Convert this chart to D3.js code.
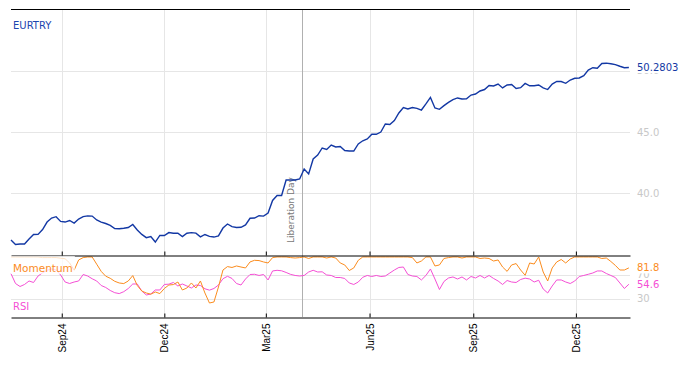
<!DOCTYPE html>
<html>
<head>
<meta charset="utf-8">
<title>EURTRY</title>
<style>
  body { margin: 0; background: #fff; }
  svg { font-family: "DejaVu Sans", sans-serif; }
  .grid line { stroke: #e6e6e6; stroke-width: 1; }
  .axis path, .axis line { stroke: #000; }
  .axis text { fill: #000; font-size: 10px; }
</style>
<script src="https://d3js.org/d3.v7.min.js"></script>
</head>
<body>
<svg id="chart" width="687" height="366"></svg>
<script>
// one reading every 4 calendar days, starting 18 Jul 2024
var startDate = new Date(2024, 6, 18);
var stepDays = 4;

var eurtry = [
  36.15, 35.78, 35.82, 35.82, 36.23, 36.60, 36.61, 37.01, 37.62, 37.95,
  38.06, 37.67, 37.62, 37.75, 37.54, 37.87, 38.06, 38.13, 38.11, 37.79,
  37.62, 37.50, 37.34, 37.09, 37.07, 37.11, 37.17, 37.42, 36.97, 36.61,
  36.34, 36.43, 35.98, 36.52, 36.52, 36.76, 36.70, 36.70, 36.43, 36.70,
  36.75, 36.71, 36.41, 36.60, 36.45, 36.39, 36.48, 37.13, 37.46, 37.24,
  37.17, 37.19, 37.39, 37.93, 37.95, 38.14, 38.11, 38.36, 39.39, 39.80,
  39.80, 41.07, 41.07, 41.07, 41.15, 41.97, 41.57, 42.79, 43.11, 43.69,
  43.57, 43.93, 43.77, 43.81, 43.48, 43.44, 43.44, 44.02, 44.28, 44.43,
  44.81, 44.81, 45.00, 45.66, 45.61, 45.94, 46.56, 47.01, 46.89, 47.01,
  46.94, 46.80, 47.30, 47.83, 46.97, 46.86, 47.16, 47.43, 47.66, 47.79,
  47.70, 47.72, 48.03, 48.11, 48.36, 48.48, 48.81, 48.77, 48.93, 48.61,
  48.85, 48.89, 48.57, 48.63, 48.98, 48.79, 48.79, 48.85, 48.61, 48.48,
  48.93, 49.14, 49.14, 48.99, 49.26, 49.40, 49.43, 49.61, 50.08, 50.27,
  50.22, 50.61, 50.64, 50.59, 50.52, 50.39, 50.27, 50.2803
];

var momentum = [
  100, 100, 100, 100, 100, 100, 100, 99, 99, 99,
  99, 98, 97, 90, 78, 95, 99, 100, 100, 88,
  76, 68, 64.5, 59.5, 56.7, 55.7, 60, 69, 52.5, 43.3,
  40, 38, 41.7, 39, 47.5, 53.3, 54, 58.3, 45, 48.3,
  56.7, 48.3, 60, 40, 23.3, 25, 50, 78.3, 84, 82.5,
  85, 83.3, 81.7, 91.7, 94.5, 94, 91.7, 90, 99, 100,
  100, 100, 99, 98.3, 99, 100, 97.5, 100, 100, 100,
  98.3, 100, 98.3, 90, 86.7, 77.5, 81.7, 94.5, 100, 100,
  100, 100, 100, 100, 100, 100, 100, 100, 100, 99,
  90, 93.3, 100, 100, 85, 86.7, 97.5, 99, 100, 100,
  98.3, 100, 100, 100, 97.5, 98.3, 97.5, 93.3, 95, 83.3,
  76, 86.7, 89, 78.3, 69.5, 90, 88.3, 100, 75, 60,
  81.7, 91.7, 95.8, 90, 96.7, 100, 100, 100, 100, 100,
  100, 97.5, 98.3, 92.5, 86, 78.3, 78.3, 81.8
];

var rsi = [
  72.2, 55.8, 50.8, 54.2, 60, 57.5, 68.3, 73.7, 77.8, 80,
  78.3, 70, 58.3, 55.8, 58.3, 60, 70.8, 68.3, 63.7, 60,
  52.5, 49.2, 44.2, 40.5, 39, 42.2, 47.5, 55, 55, 43.3,
  36.7, 38.3, 45, 45, 54.2, 54.7, 57.5, 51.7, 55, 51.7,
  48.3, 53.3, 52.5, 47, 44.7, 47.5, 53.3, 63.8, 67.8, 64.2,
  55.8, 53.3, 63.3, 70.8, 71.2, 69.2, 70.8, 61.7, 76.7, 77.8,
  77, 74.2, 71, 69.2, 68.3, 69.2, 75, 77.8, 75, 75.3,
  70, 69.2, 65.8, 65.8, 64.2, 56.7, 54.2, 58.3, 66.2, 69.2,
  67.5, 69.2, 67.5, 68.3, 73.3, 78.3, 82.5, 83.3, 70.8, 68.3,
  67.5, 61.7, 69.2, 80, 63.3, 45.8, 59.2, 65, 66.7, 63.3,
  66.7, 61.7, 67.5, 65, 69.2, 65, 69.2, 64.2, 60, 54.2,
  60.8, 58.3, 57.5, 62.5, 64.7, 63.3, 58.3, 61.2, 46.7, 40,
  51.7, 61.7, 61.7, 58.3, 55.8, 60, 67.5, 69.2, 71.2, 73.3,
  76.7, 76.7, 72.5, 69.2, 65.8, 56.7, 47.5, 54.6
];

var tickDates = [new Date(2024, 8, 1), new Date(2024, 11, 1), new Date(2025, 2, 1),
                 new Date(2025, 5, 1), new Date(2025, 8, 1), new Date(2025, 11, 1)];
var priceTicks = [40, 45, 50];
var oscTicks = [30, 70];
var eventDate = new Date(2025, 3, 2);
var eventLabel = "Liberation Day";

var dates = eurtry.map(function (d, i) { return d3.timeDay.offset(startDate, i * stepDays); });

var svg = d3.select("#chart");
var left = 11, right = 630;
var mainTop = 9, mainBottom = 255, lowBottom = 317;

var x = d3.scaleTime()
  .domain([startDate, new Date(2026, 0, 18)])
  .range([left, right]);
var yMain = d3.scaleLinear().domain([34.92, 55.08]).range([mainBottom, mainTop]);
var yLow = d3.scaleLinear().domain([0, 103.3]).range([lowBottom, mainBottom]);

// grid
var grid = svg.append("g").attr("class", "grid");
grid.selectAll(".v").data(tickDates).join("line")
  .attr("x1", function (d) { return Math.round(x(d)) + 0.5; })
  .attr("x2", function (d) { return Math.round(x(d)) + 0.5; })
  .attr("y1", mainTop).attr("y2", lowBottom);
grid.selectAll(".hm").data(priceTicks).join("line")
  .attr("x1", left).attr("x2", right)
  .attr("y1", function (d) { return Math.round(yMain(d)) + 0.5; })
  .attr("y2", function (d) { return Math.round(yMain(d)) + 0.5; });
grid.selectAll(".hl").data(oscTicks).join("line")
  .attr("x1", left).attr("x2", right)
  .attr("y1", function (d) { return Math.round(yLow(d)) + 0.5; })
  .attr("y2", function (d) { return Math.round(yLow(d)) + 0.5; });

// event line
var ex = Math.round(x(eventDate)) + 0.5;
svg.append("line")
  .attr("x1", ex).attr("x2", ex).attr("y1", mainTop).attr("y2", lowBottom)
  .attr("stroke", "#b0b0b0").attr("stroke-width", 1);
svg.append("text")
  .attr("transform", "translate(" + (ex - 9) + ",243) rotate(-90)")
  .attr("font-size", "9px").attr("fill", "#777")
  .text(eventLabel);

// series
var line = function (y) {
  return d3.line()
    .x(function (d, i) { return x(dates[i]); })
    .y(function (d) { return y(d); });
};
svg.append("path").datum(rsi)
  .attr("fill", "none").attr("stroke", "#f54fd5").attr("stroke-width", 1)
  .attr("d", line(yLow));
svg.append("path").datum(momentum)
  .attr("fill", "none").attr("stroke", "#fb8c1e").attr("stroke-width", 1)
  .attr("d", line(yLow));
svg.append("path").datum(eurtry)
  .attr("fill", "none").attr("stroke", "#1338a4").attr("stroke-width", 1.4)
  .attr("d", line(yMain));

// borders and x axes
svg.append("line").attr("x1", left).attr("x2", right)
  .attr("y1", mainTop + 0.5).attr("y2", mainTop + 0.5).attr("stroke", "#000");
svg.append("g").attr("class", "axis")
  .attr("transform", "translate(0," + (mainBottom + 0.5) + ")")
  .call(d3.axisBottom(x).tickValues(tickDates).tickSize(-4).tickSizeOuter(0).tickFormat(""));
var xa = svg.append("g").attr("class", "axis")
  .attr("transform", "translate(0," + (lowBottom + 0.5) + ")")
  .call(d3.axisBottom(x).tickValues(tickDates).tickSize(-4).tickSizeOuter(0)
    .tickFormat(d3.timeFormat("%b%y")));
xa.selectAll("text")
  .attr("transform", "rotate(-90)")
  .attr("text-anchor", "end")
  .attr("x", -6).attr("y", 0).attr("dy", "0.35em");
xa.selectAll(".tick line").attr("transform", null);

// right labels
svg.selectAll(".pt").data(priceTicks).join("text")
  .attr("x", 637).attr("y", function (d) { return yMain(d); }).attr("dy", "0.35em")
  .attr("font-size", "10px").attr("fill", "#c8c8c8")
  .text(function (d) { return d.toFixed(1); });
svg.selectAll(".ot").data(oscTicks).join("text")
  .attr("x", 637).attr("y", function (d) { return yLow(d); }).attr("dy", "0.35em")
  .attr("font-size", "10px").attr("fill", "#c8c8c8")
  .text(function (d) { return d; });

function lastLabel(val, y, color, txt) {
  var g = svg.append("g");
  var t = g.append("text").attr("x", 637).attr("y", y(val)).attr("dy", "0.35em")
    .attr("font-size", "10px").attr("fill", color).text(txt);
  var b = t.node().getBBox();
  g.insert("rect", "text").attr("x", b.x - 1).attr("y", b.y).attr("width", b.width + 2)
    .attr("height", b.height).attr("fill", "#fff");
}
lastLabel(eurtry[eurtry.length - 1], yMain, "#1338a4", eurtry[eurtry.length - 1].toFixed(4));
lastLabel(momentum[momentum.length - 1], yLow, "#fb8c1e", momentum[momentum.length - 1].toFixed(1));
lastLabel(rsi[rsi.length - 1], yLow, "#f54fd5", rsi[rsi.length - 1].toFixed(1));

// series names
svg.append("text").attr("x", 13).attr("y", 29)
  .attr("font-size", "10px").attr("fill", "#1c45b0").text("EURTRY");
var mg = svg.append("g");
var mt = mg.append("text").attr("x", 13).attr("y", 272)
  .attr("font-size", "10.5px").attr("fill", "#fb8c1e").text("Momentum");
var mb = mt.node().getBBox();
mg.insert("rect", "text").attr("x", mb.x - 2).attr("y", mb.y - 6)
  .attr("width", mb.width + 4).attr("height", mb.height + 6)
  .attr("fill", "#fff").attr("fill-opacity", 0.75);
svg.append("text").attr("x", 13).attr("y", 310)
  .attr("font-size", "10px").attr("fill", "#f54fd5").text("RSI");
</script>
</body>
</html>
